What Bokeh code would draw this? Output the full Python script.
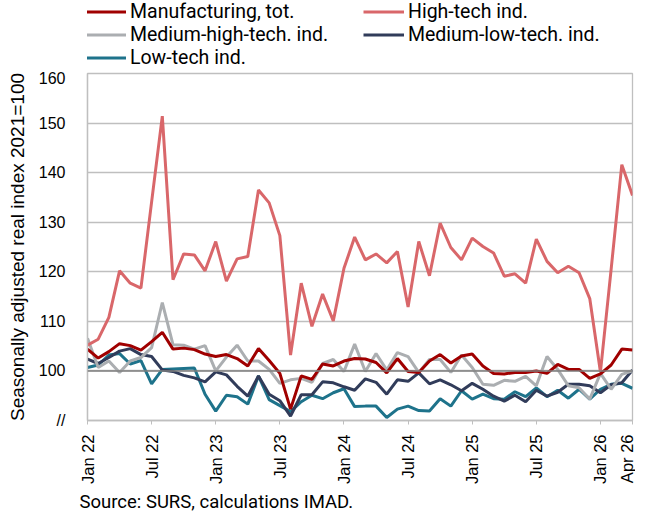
from bokeh.plotting import figure
from bokeh.models import Range1d, FixedTicker, Span, Legend, LegendItem, Title
from bokeh.layouts import column
from bokeh.embed import file_html
from bokeh.resources import INLINE

# Months Jan 2022 .. Apr 2026 as index 0..51
months = list(range(52))
tick_pos = [0, 6, 12, 18, 24, 30, 36, 42, 48, 51]
tick_labels = ["Jan 22", "Jul 22", "Jan 23", "Jul 23", "Jan 24", "Jul 24",
               "Jan 25", "Jul 25", "Jan 26", "Apr 26"]
y_ticks = [90, 100, 110, 120, 130, 140, 150, 160]
y_tick_labels = ["//", "100", "110", "120", "130", "140", "150", "160"]

manufacturing = [104.4, 102.6, 103.9, 105.5, 105.1, 104.2, 105.9, 107.8, 104.4, 104.6,
                 104.3, 103.4, 102.9, 103.3, 102.5, 101.0, 104.5, 102.1, 99.5, 92.3,
                 99.0, 98.3, 101.4, 101.0, 102.0, 102.5, 102.4, 101.7, 99.6, 102.5,
                 99.9, 99.7, 102.0, 103.3, 101.6, 103.0, 103.4, 101.0, 99.5, 99.4,
                 99.7, 99.7, 100.0, 99.5, 101.3, 100.3, 100.3, 98.5, 99.4, 101.2,
                 104.4, 104.2]
high_tech = [105.2, 106.4, 110.8, 120.2, 117.7, 116.7, 134.1, 151.4, 118.4, 123.6,
             123.4, 120.2, 126.1, 118.1, 122.6, 123.1, 136.5, 133.9, 127.3, 103.2,
             117.7, 109.0, 115.5, 110.1, 120.7, 127.0, 122.4, 123.6, 121.8, 124.1,
             112.9, 126.1, 119.2, 129.8, 124.9, 122.4, 126.8, 125.1, 123.8, 119.1,
             119.6, 117.7, 126.6, 122.1, 119.8, 121.1, 119.8, 114.6, 99.8, 120.5,
             141.6, 135.4]
medium_high = [106.6, 100.7, 102.0, 99.7, 102.0, 102.7, 104.7, 113.8, 105.3, 105.2,
               104.4, 105.1, 100.0, 102.8, 105.2, 102.0, 102.0, 100.3, 97.5, 98.2,
               98.5, 97.7, 101.5, 102.3, 99.9, 105.4, 99.9, 103.5, 100.2, 103.7,
               102.9, 99.7, 102.3, 102.3, 99.7, 103.2, 100.7, 97.3, 97.1, 98.1,
               97.9, 98.9, 97.0, 102.9, 100.3, 97.0, 96.6, 94.3, 99.5, 96.3,
               99.3, 100.0]
medium_low = [102.4, 101.5, 102.7, 104.0, 104.5, 103.3, 102.9, 100.2, 99.9, 99.1,
              98.6, 97.8, 99.8, 99.2, 96.9, 94.9, 99.0, 95.3, 94.0, 90.9,
              95.2, 95.2, 97.8, 97.6, 96.8, 96.1, 98.4, 97.7, 95.3, 98.2,
              97.9, 99.6, 97.4, 98.2, 97.2, 96.0, 97.5, 96.3, 94.9, 93.9,
              95.1, 93.8, 96.1, 94.9, 95.7, 97.3, 97.3, 97.0, 95.6, 97.2,
              97.6, 100.2]
low_tech = [100.7, 101.2, 103.2, 103.5, 101.4, 102.1, 97.4, 100.3, 100.4, 100.5,
            100.6, 95.3, 91.9, 95.1, 94.8, 93.3, 99.0, 94.2, 93.0, 91.8,
            93.8, 95.1, 94.4, 95.6, 96.4, 92.8, 92.9, 92.9, 90.6, 92.3,
            92.9, 92.0, 91.9, 94.4, 92.9, 96.0, 94.3, 95.3, 94.4, 94.3,
            95.8, 94.8, 96.6, 94.8, 96.1, 94.5, 96.3, 94.3, 96.3, 97.3,
            97.5, 96.5]

series_names = ["Manufacturing, tot.", "High-tech ind.", "Medium-high-tech. ind.",
                "Medium-low-tech. ind.", "Low-tech ind."]
series_values = [manufacturing, high_tech, medium_high, medium_low, low_tech]
series_colors = ["#A00000", "#D9676A", "#ABAEB1", "#313C5A", "#1E738B"]

# ---------------- legend strip (no axes) ----------------
pl = figure(width=635, height=69, output_backend="svg", toolbar_location=None,
            x_range=Range1d(0, 1), y_range=Range1d(0, 1),
            x_axis_location=None, y_axis_location=None,
            min_border_left=0, min_border_right=0, min_border_top=0,
            min_border_bottom=0)
pl.grid.grid_line_color = None
pl.outline_line_color = None
leg_renderers = []
for col in series_colors:
    # legend proxy lines, placed outside the visible range
    leg_renderers.append(pl.line([-3, -2], [-3, -2], line_color=col, line_width=3))
items = [LegendItem(label=n, renderers=[r]) for n, r in zip(series_names, leg_renderers)]
legend = Legend(items=items, orientation="horizontal", ncols=2, location=(-2, 0))
legend.label_text_font = "Roboto"
legend.label_text_font_size = "19.5px"
legend.label_text_color = "#000000"
legend.glyph_width = 41
legend.glyph_height = 23
legend.label_height = 23
legend.label_width = 233
legend.label_standoff = 4
legend.spacing = 0
legend.padding = 0
legend.margin = 0
legend.border_line_color = None
legend.background_fill_alpha = 0
pl.add_layout(legend)

# ---------------- main chart ----------------
p = figure(width=635, height=447, output_backend="svg", toolbar_location=None,
           x_range=Range1d(0, 51), y_range=Range1d(90, 160),
           min_border_left=87, min_border_right=3, min_border_top=4,
           min_border_bottom=96)
p.background_fill_color = "white"
p.border_fill_color = "white"
p.outline_line_color = "#BFBFBF"
p.outline_line_width = 1.3

p.xgrid.grid_line_color = None
p.ygrid.grid_line_color = "#BFBFBF"
p.ygrid.grid_line_width = 1.3

p.add_layout(Span(location=100, dimension="width", line_color="#7F7F7F",
                  line_width=1.6))

# draw lines in reverse so manufacturing is on top
for name, vals, col in reversed(list(zip(series_names, series_values, series_colors))):
    p.line(months, vals, line_color=col, line_width=3)

p.xaxis.ticker = FixedTicker(ticks=tick_pos)
p.xaxis.major_label_overrides = dict(zip(tick_pos, tick_labels))
p.xaxis.major_label_orientation = 1.5707963
p.xaxis.major_label_text_font = "Liberation Sans"
p.xaxis.major_label_text_font_size = "16.5px"
p.xaxis.major_label_text_color = "#000000"
p.xaxis.major_label_standoff = 10
p.xaxis.major_tick_out = 4
p.xaxis.major_tick_in = 0
p.xaxis.major_tick_line_color = "#BFBFBF"
p.xaxis.minor_tick_line_color = None
p.xaxis.axis_line_color = "#BFBFBF"
p.xaxis.axis_line_width = 1.3

p.yaxis.ticker = FixedTicker(ticks=y_ticks)
p.yaxis.major_label_overrides = dict(zip(y_ticks, y_tick_labels))
p.yaxis.major_label_text_font = "Liberation Sans"
p.yaxis.major_label_text_font_size = "16px"
p.yaxis.major_label_text_color = "#000000"
p.yaxis.major_label_standoff = 22
p.yaxis.major_tick_out = 0
p.yaxis.major_tick_in = 0
p.yaxis.major_tick_line_color = None
p.yaxis.minor_tick_line_color = None
p.yaxis.axis_line_color = "#BFBFBF"
p.yaxis.axis_line_width = 1.3
p.yaxis.axis_label = "Seasonally adjusted real index 2021=100"
p.yaxis.axis_label_text_font = "Liberation Sans"
p.yaxis.axis_label_text_font_size = "19px"
p.yaxis.axis_label_text_font_style = "normal"
p.yaxis.axis_label_text_color = "#000000"
p.yaxis.axis_label_standoff = 8

src = Title(text="Source: SURS, calculations IMAD.", align="left",
            text_font="Roboto", text_font_size="18.5px", text_font_style="normal",
            text_color="#000000", offset=-8, standoff=2)
p.add_layout(src, "below")

layout = column(pl, p, spacing=0)
open("out.html", "w").write(file_html(layout, INLINE))
